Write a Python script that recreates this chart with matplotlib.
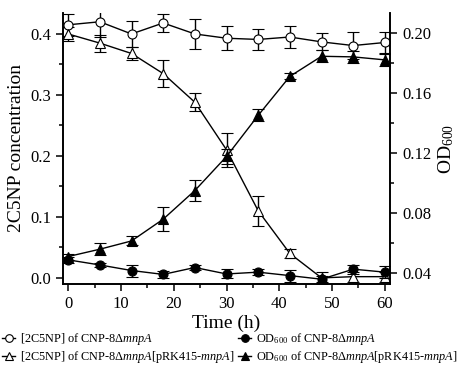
import matplotlib
matplotlib.use("Agg")
import matplotlib.pyplot as plt
from matplotlib.ticker import MultipleLocator
from matplotlib.lines import Line2D

plt.rcParams['font.family'] = ['Liberation Serif', 'DejaVu Serif']
plt.rcParams['mathtext.fontset'] = 'custom'
plt.rcParams['mathtext.rm'] = 'Liberation Serif'
plt.rcParams['mathtext.it'] = 'Liberation Serif:italic'

time = [0, 6, 12, 18, 24, 30, 36, 42, 48, 54, 60]

c5np_mut = [0.415, 0.420, 0.400, 0.418, 0.400, 0.393, 0.391, 0.395, 0.387, 0.381, 0.386]
c5np_mut_err = [0.018, 0.025, 0.022, 0.014, 0.024, 0.020, 0.017, 0.018, 0.014, 0.022, 0.017]

c5np_comp = [0.400, 0.385, 0.368, 0.335, 0.288, 0.210, 0.110, 0.040, 0.000, 0.002, 0.002]
c5np_comp_err = [0.012, 0.014, 0.010, 0.022, 0.015, 0.028, 0.025, 0.008, 0.010, 0.008, 0.008]

od_mut = [0.0487, 0.0453, 0.0416, 0.0390, 0.0436, 0.0393, 0.0405, 0.0382, 0.0358, 0.0425, 0.0405]
od_mut_err = [0.002, 0.0015, 0.004, 0.0025, 0.0015, 0.003, 0.002, 0.004, 0.002, 0.003, 0.004]

od_comp = [0.0509, 0.0558, 0.0613, 0.0758, 0.0949, 0.1176, 0.1450, 0.1710, 0.1844, 0.1840, 0.1820]
od_comp_err = [0.002, 0.004, 0.003, 0.008, 0.007, 0.005, 0.004, 0.002, 0.004, 0.004, 0.004]

fig = plt.figure(figsize=(4.59, 3.8), dpi=100)
ax = fig.add_axes([0.137, 0.253, 0.713, 0.713])
ax2 = ax.twinx()

ebkw = dict(color='black', lw=1.0, capsize=4, elinewidth=1.0, capthick=1.0, ms=6.5, mew=0.8)
h1 = ax.errorbar(time, c5np_mut, yerr=c5np_mut_err, marker='o', mfc='white', mec='black', zorder=3, **ebkw)
h2 = ax.errorbar(time, c5np_comp, yerr=c5np_comp_err, marker='^', mfc='white', mec='black', zorder=3, **ebkw)
h3 = ax2.errorbar(time, od_mut, yerr=od_mut_err, marker='o', mfc='black', mec='black', zorder=3, **ebkw)
h4 = ax2.errorbar(time, od_comp, yerr=od_comp_err, marker='^', mfc='black', mec='black', zorder=3, **ebkw)

ax.set_xlim(-1, 61)
ax.set_ylim(-0.0098, 0.4345)
ax2.set_ylim(0.0327, 0.2133)

ax.xaxis.set_major_locator(MultipleLocator(10))
ax.xaxis.set_minor_locator(MultipleLocator(5))
ax.yaxis.set_major_locator(MultipleLocator(0.1))
ax.yaxis.set_minor_locator(MultipleLocator(0.05))
ax2.yaxis.set_major_locator(MultipleLocator(0.04))
ax2.yaxis.set_minor_locator(MultipleLocator(0.02))
ax.yaxis.set_major_formatter(matplotlib.ticker.FormatStrFormatter('%.1f'))
ax2.yaxis.set_major_formatter(matplotlib.ticker.FormatStrFormatter('%.2f'))

for a in (ax, ax2):
    a.spines['top'].set_visible(False)
    for s in a.spines.values():
        s.set_linewidth(1.2)
    a.tick_params(which='major', direction='out', length=5, width=1.1, labelsize=12)
    a.tick_params(which='minor', direction='out', length=3, width=1.1)

ax.set_xlabel('Time (h)', fontsize=14, labelpad=2)
ax.set_ylabel('2C5NP concentration', fontsize=14, labelpad=4)
ax2.set_ylabel('OD$_{600}$', fontsize=14, labelpad=4)

def proxy(marker, fc):
    return Line2D([0], [0], color='black', lw=1.0, marker=marker, mfc=fc, mec='black', ms=5.5, mew=0.8)

handles = [proxy('o', 'white'), proxy('^', 'white'), proxy('o', 'black'), proxy('^', 'black')]
labels = [r'[2C5NP] of CNP-8$\Delta$$\it{mnpA}$',
          r'[2C5NP] of CNP-8$\Delta$$\it{mnpA}$[pRK415-$\it{mnpA}$]',
          r'OD$_{600}$ of CNP-8$\Delta$$\it{mnpA}$',
          r'OD$_{600}$ of CNP-8$\Delta$$\it{mnpA}$[pRK415-$\it{mnpA}$]']
fig.legend(handles, labels, ncol=2, loc='upper left', bbox_to_anchor=(0.004, 0.128),
           frameon=False, fontsize=8.8, handlelength=1.1, handletextpad=0.35,
           columnspacing=0.3, labelspacing=0.12, borderaxespad=0, borderpad=0)

fig.savefig('out.png', dpi=100)
